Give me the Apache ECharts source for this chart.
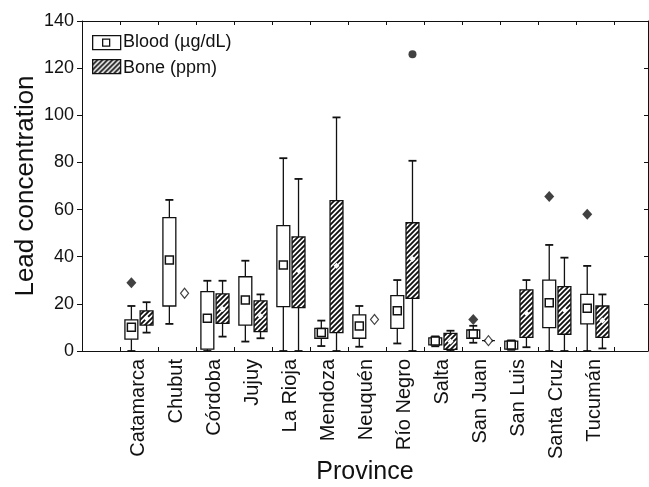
<!DOCTYPE html>
<html><head><meta charset="utf-8">
<script src="https://cdn.jsdelivr.net/npm/echarts@6/dist/echarts.min.js"></script>
<style>html,body{margin:0;padding:0;background:#fff}#c{width:649px;height:487px}</style>
</head><body><div id="c"></div>
<script>
// ---- data ----
const provinces = ['Catamarca','Chubut','Córdoba','Jujuy','La Rioja','Mendoza','Neuquén','Río Negro','Salta','San Juan','San Luis','Santa Cruz','Tucumán'];
// [whisker low, Q1, median, Q3, whisker high]
const bloodStats = [
  [0, 5.0, 10.1, 13.2, 19.1],
  [11.5, 19.1, 38.6, 56.6, 64.1],
  [0, 0.8, 13.9, 25.2, 29.8],
  [4.0, 11.0, 21.6, 31.5, 38.3],
  [0, 18.8, 36.5, 53.2, 81.8],
  [2.1, 5.4, 7.9, 9.6, 12.9],
  [1.8, 5.4, 10.6, 15.3, 19.1],
  [3.2, 9.6, 17.1, 23.5, 30.1],
  [2.0, 2.6, 4.2, 5.6, 6.2],
  [3.5, 5.4, 7.2, 8.9, 10.7],
  [0.5, 0.8, 2.5, 4.2, 4.5],
  [0, 9.9, 20.5, 30.1, 45.0],
  [0, 11.5, 18.1, 24.0, 36.1]
];
const boneStats = [
  [7.8, 11.0, 13.9, 17.0, 20.7],
  null,
  [6.1, 11.7, 17.8, 24.2, 29.8],
  [5.4, 8.2, 14.8, 21.3, 24.0],
  [0, 18.4, 34.1, 48.4, 73.0],
  [0, 7.8, 36.2, 63.8, 99.1],
  null,
  [0, 22.3, 39.0, 54.4, 80.7],
  [0, 0.7, 4.0, 7.5, 8.6],
  [4.4, 4.4, 4.4, 4.4, 4.4],
  [1.6, 5.8, 16.0, 25.9, 30.1],
  [0, 7.1, 17.4, 27.3, 39.6],
  [1.1, 5.8, 12.9, 19.1, 24.0]
];
const boneSingle = [null, 24.5, null, null, null, null, 13.4, null, null, 4.4, null, null, null];
const bloodOutliers = [[0, 29.0], [9, 13.4], [11, 65.5], [12, 58.0]];
const boneOutliers = [[7, 125.9]];
const yTicks = [0, 20, 40, 60, 80, 100, 120, 140];

// ---- helpers ----
const OFF = 0.2, BOX_W = 0.34, CAP = 4, INK = '#111';
function makeHatch() {
  const s = 5, c = document.createElement('canvas');
  c.width = s; c.height = s;
  const g = c.getContext('2d');
  g.fillStyle = '#fff'; g.fillRect(0, 0, s, s);
  g.strokeStyle = INK; g.lineWidth = 1.9;
  g.beginPath();
  g.moveTo(0, s); g.lineTo(s, 0);
  g.moveTo(-1, 1); g.lineTo(1, -1);
  g.moveTo(s - 1, s + 1); g.lineTo(s + 1, s - 1);
  g.stroke();
  return c;
}
const hatch = makeHatch();
const hatchFill = { image: hatch, repeat: 'repeat' };

function boxData(stats, offset) {
  const out = [];
  stats.forEach((s, i) => { if (s) out.push([i + offset].concat(s)); });
  return out;
}
function makeRender(isBone) {
  return function (params, api) {
    const x = api.value(0);
    const pLow = api.coord([x, api.value(1)]);
    const pQ1 = api.coord([x, api.value(2)]);
    const pMed = api.coord([x, api.value(3)]);
    const pQ3 = api.coord([x, api.value(4)]);
    const pHigh = api.coord([x, api.value(5)]);
    const w = api.size([BOX_W, 0])[0];
    const cx = pMed[0];
    const ls = { stroke: INK, lineWidth: 1.3 };
    const children = [
      { type: 'line', shape: { x1: cx, y1: pHigh[1], x2: cx, y2: pQ3[1] }, style: ls },
      { type: 'line', shape: { x1: cx, y1: pQ1[1], x2: cx, y2: pLow[1] }, style: ls },
      { type: 'line', shape: { x1: cx - CAP, y1: pHigh[1], x2: cx + CAP, y2: pHigh[1] }, style: { stroke: INK, lineWidth: 1.8 } },
      { type: 'line', shape: { x1: cx - CAP, y1: pLow[1], x2: cx + CAP, y2: pLow[1] }, style: { stroke: INK, lineWidth: 1.8 } },
      { type: 'rect', shape: { x: cx - w / 2, y: pQ3[1], width: w, height: pQ1[1] - pQ3[1] },
        style: { fill: isBone ? hatchFill : '#fff', stroke: INK, lineWidth: 1.3 } }
    ];
    if (!isBone) {
      children.push({ type: 'rect', shape: { x: cx - 4, y: pMed[1] - 4, width: 8, height: 8 },
        style: { fill: '#fff', stroke: INK, lineWidth: 1.5 } });
    } else {
      children.push({ type: 'polygon', shape: { points: [[cx, pMed[1] - 3], [cx + 3, pMed[1]], [cx, pMed[1] + 3], [cx - 3, pMed[1]]] },
        style: { fill: '#fff' } });
    }
    return { type: 'group', children };
  };
}

const chart = echarts.init(document.getElementById('c'), null, { renderer: 'canvas' });
const tickVals = provinces.map((p, i) => i - 0.5).concat([provinces.length - 0.5]);
const labelVals = provinces.map((p, i) => i);
const axisLineStyle = { lineStyle: { color: INK, width: 1 } };

chart.setOption({
  animation: false,
  textStyle: { fontFamily: 'Liberation Sans, Arial, sans-serif' },
  grid: { left: 82, right: 1, top: 21, bottom: 136, containLabel: false, outerBoundsMode: 'none' },
  xAxis: [
    {
      type: 'value', min: -1.5, max: 13.4, position: 'bottom',
      axisLine: Object.assign({ onZero: false }, axisLineStyle),
      axisTick: { customValues: tickVals, inside: true, length: 4, lineStyle: { color: INK } },
      axisLabel: { customValues: labelVals, rotate: 90, formatter: v => provinces[Math.round(v)] || '',
        fontSize: 20, color: '#111', margin: 8 },
      splitLine: { show: false },
      name: 'Province', nameLocation: 'middle', nameGap: 109, nameMoveOverlap: false,
      nameTextStyle: { fontSize: 25, color: '#111' }
    },
    {
      type: 'value', min: -1.5, max: 13.4, position: 'top',
      axisLine: Object.assign({ onZero: false }, axisLineStyle),
      axisTick: { customValues: tickVals, inside: true, length: 4, lineStyle: { color: INK } },
      axisLabel: { show: false }, splitLine: { show: false }
    }
  ],
  yAxis: [
    {
      type: 'value', min: 0, max: 140, interval: 20, position: 'left',
      axisLine: Object.assign({ show: true, onZero: false }, axisLineStyle),
      axisTick: { show: true, inside: false, length: 5, lineStyle: { color: INK } },
      axisLabel: { fontSize: 18, color: '#111', margin: 8, formatter: v => yTicks.includes(v) ? String(v) : '' },
      splitLine: { show: false },
      name: 'Lead concentration', nameLocation: 'middle', nameGap: 43, nameMoveOverlap: false,
      nameTextStyle: { fontSize: 26, color: '#111' }
    },
    {
      type: 'value', min: 0, max: 140, interval: 20, position: 'right',
      axisLine: Object.assign({ show: true, onZero: false }, axisLineStyle),
      axisTick: { show: true, inside: true, length: 4, lineStyle: { color: INK } },
      axisLabel: { show: false }, splitLine: { show: false }
    }
  ],
  series: [
    { name: 'Blood (µg/dL)', type: 'custom', xAxisIndex: 0, yAxisIndex: 0,
      renderItem: makeRender(false), encode: { x: 0, y: [1, 2, 3, 4, 5] },
      data: boxData(bloodStats, -OFF), z: 2 },
    { name: 'Bone (ppm)', type: 'custom', xAxisIndex: 0, yAxisIndex: 0,
      renderItem: makeRender(true), encode: { x: 0, y: [1, 2, 3, 4, 5] },
      data: boxData(boneStats, OFF), z: 2 },
    { type: 'scatter', xAxisIndex: 0, yAxisIndex: 0, symbol: 'diamond', symbolSize: [8, 10],
      itemStyle: { color: '#fff', borderColor: INK, borderWidth: 1.2 }, z: 4,
      data: boneSingle.map((v, i) => v == null ? null : [i + OFF, v]).filter(d => d) },
    { type: 'scatter', xAxisIndex: 0, yAxisIndex: 0, symbol: 'diamond', symbolSize: [10, 11],
      itemStyle: { color: INK }, z: 4,
      data: bloodOutliers.map(d => [d[0] - OFF, d[1]]) },
    { type: 'scatter', xAxisIndex: 0, yAxisIndex: 0, symbol: 'circle', symbolSize: 8,
      itemStyle: { color: INK }, z: 4,
      data: boneOutliers.map(d => [d[0] + OFF, d[1]]) }
  ],
  graphic: [
    { type: 'rect', left: 92, top: 35, shape: { width: 28, height: 14 }, style: { fill: '#fff', stroke: INK, lineWidth: 1.3 } },
    { type: 'rect', left: 102, top: 38.5, shape: { width: 7, height: 7 }, style: { fill: '#fff', stroke: INK, lineWidth: 1.3 } },
    { type: 'text', left: 123, top: 33, style: { text: 'Blood (µg/dL)', fontSize: 18, fill: '#111', fontFamily: 'Liberation Sans, Arial, sans-serif' } },
    { type: 'rect', left: 92, top: 59, shape: { width: 28, height: 14 }, style: { fill: hatchFill, stroke: INK, lineWidth: 1.3 } },
    { type: 'text', left: 123, top: 59, style: { text: 'Bone (ppm)', fontSize: 18, fill: '#111', fontFamily: 'Liberation Sans, Arial, sans-serif' } }
  ]
});
</script>
</body></html>
